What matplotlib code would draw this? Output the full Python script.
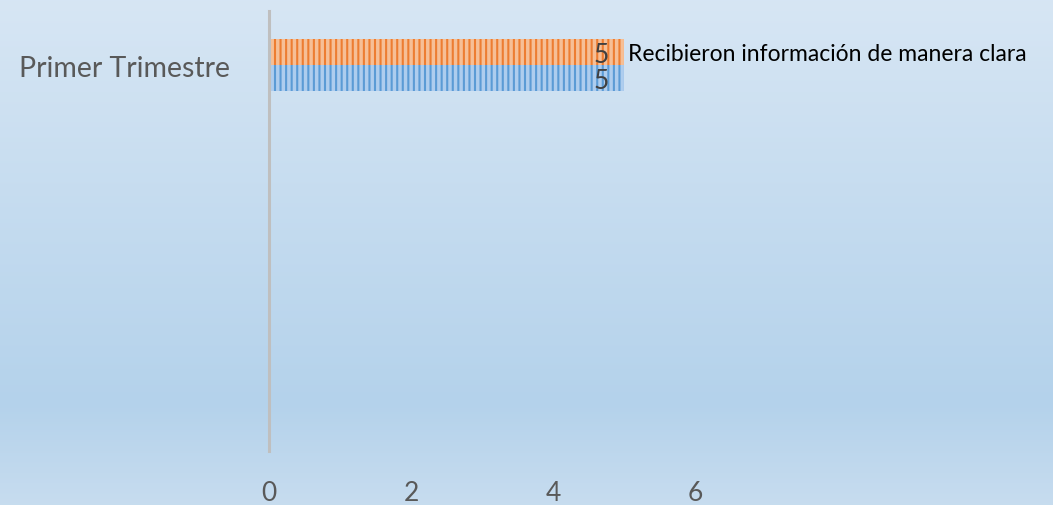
import numpy as np
import matplotlib
matplotlib.use('Agg')
import matplotlib.pyplot as plt

categories = ['Primer Trimestre']
series_names = ['Serie 1', 'Recibieron información de manera clara']
blue_vals = [5]
orange_vals = [5]
x_ticks = [0, 2, 4, 6]

W, H = 1053, 506
fig = plt.figure(figsize=(W / 100, H / 100), dpi=100)

# fondo degradado
bg = fig.add_axes([0, 0, 1, 1], zorder=0)
t = np.linspace(0, 1, 256)
top = np.array([0.843, 0.902, 0.957])
mid = np.array([0.706, 0.824, 0.922])
bot = np.array([0.780, 0.863, 0.937])
grad = np.where(t[:, None] < 0.8, top + (mid - top) * (t[:, None] / 0.8),
                mid + (bot - mid) * ((t[:, None] - 0.8) / 0.2))
bg.imshow(grad[:, None, :], aspect='auto', extent=[0, 1, 0, 1])
bg.axis('off')

ax = fig.add_axes([269 / W, 54 / H, (695 - 269) / W, 440 / H], zorder=1)
ax.patch.set_alpha(0)

plt.rcParams['hatch.linewidth'] = 1.5
bh = 1.0
y0 = np.arange(len(categories))
ax.barh(y0 + bh / 2, blue_vals, height=bh, color='#aecdee', edgecolor='#5b9bd5',
        hatch='|||', linewidth=0)
ax.barh(y0 - bh / 2, orange_vals, height=bh, color='#f6bf96', edgecolor='#ed7d31',
        hatch='|||', linewidth=0)

for i in range(len(categories)):
    ax.text(blue_vals[i] - 0.22, y0[i] + bh / 2 + 0.1, str(blue_vals[i]), ha='right',
            va='center', fontsize=19, color='#404040', family='Lato')
    ax.text(orange_vals[i] - 0.22, y0[i] - bh / 2 + 0.1, str(orange_vals[i]), ha='right',
            va='center', fontsize=19, color='#404040', family='Lato')
    ax.text(orange_vals[i] + 0.06, y0[i] - bh / 2 + 0.05, series_names[1], ha='left',
            va='center', fontsize=16.5, color='black', family='Lato', clip_on=False)

ax.set_xlim(0, 6)
ax.set_ylim(14.85, -2.08)
ax.set_xticks(x_ticks)
ax.set_xticklabels([str(v) for v in x_ticks], fontsize=19, color='#595959', family='Lato')
ax.set_yticks(y0)
ax.set_yticklabels(categories, fontsize=20.5, color='#595959', family='Lato')
ax.tick_params(axis='x', length=0, pad=21)
ax.tick_params(axis='y', length=0, pad=28)
for s in ['top', 'right', 'bottom']:
    ax.spines[s].set_visible(False)
ax.spines['left'].set_color('#bfbfbf')
ax.spines['left'].set_linewidth(2.2)

fig.savefig('out.png', dpi=100)
